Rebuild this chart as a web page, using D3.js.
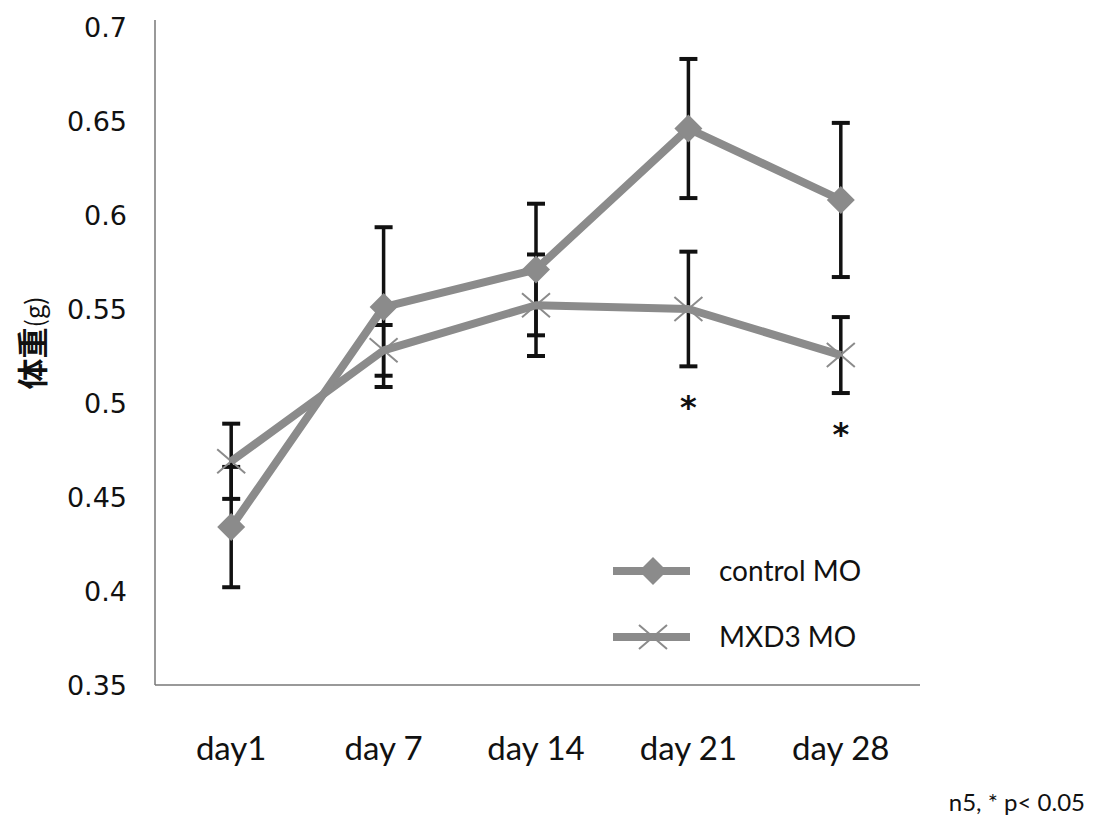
<!DOCTYPE html>
<html>
<head>
<meta charset="utf-8">
<script src="https://cdn.jsdelivr.net/npm/d3@7"></script>
<style>
  body { margin: 0; background: #fff; }
</style>
</head>
<body>
<div id="chart-area"></div>
<script>
//values
const days = ['day1', 'day 7', 'day 14', 'day 21', 'day 28'];
const controlMean = [0.434, 0.551, 0.571, 0.646, 0.608];
const controlErr = [0.032, 0.0425, 0.035, 0.037, 0.041];
const mxd3Mean = [0.469, 0.528, 0.552, 0.55, 0.5255];
const mxd3Err = [0.02, 0.0135, 0.027, 0.0305, 0.0202];
const significant = [false, false, false, true, true];
const yTicks = [0.35, 0.4, 0.45, 0.5, 0.55, 0.6, 0.65, 0.7];
const seriesNames = ['control MO', 'MXD3 MO'];

let width = 1094;
let height = 825;
let plot = { left: 155, right: 917, top: 27, bottom: 685 };
let lineColor = '#8b8b8b';

let chart = d3
  .select('#chart-area')
  .append('svg')
  .attr('width', width)
  .attr('height', height);

let x = d3.scaleBand().domain(days).range([plot.left, plot.right]);
let y = d3.scaleLinear().domain([0.35, 0.7]).range([plot.bottom, plot.top]);
let cx = (d) => x(d) + x.bandwidth() / 2;

let series = [
  { name: seriesNames[0], mean: controlMean, err: controlErr, marker: 'diamond' },
  { name: seriesNames[1], mean: mxd3Mean, err: mxd3Err, marker: 'cross' },
];

//axes lines
chart
  .append('line')
  .attr('x1', plot.left)
  .attr('x2', plot.left)
  .attr('y1', plot.top - 7)
  .attr('y2', plot.bottom)
  .attr('stroke', '#777')
  .attr('stroke-width', 1.5);
chart
  .append('line')
  .attr('x1', plot.left)
  .attr('x2', plot.right + 3)
  .attr('y1', plot.bottom)
  .attr('y2', plot.bottom)
  .attr('stroke', '#777')
  .attr('stroke-width', 1.5);

//y tick labels
chart
  .append('g')
  .selectAll('text')
  .data(yTicks)
  .enter()
  .append('text')
  .attr('x', 127)
  .attr('y', (d) => y(d))
  .attr('dy', '0.36em')
  .attr('text-anchor', 'end')
  .style('font-family', 'DejaVu Sans')
  .style('font-size', '27px')
  .style('fill', '#111')
  .text((d) => d);

//x labels
chart
  .append('g')
  .selectAll('text')
  .data(days)
  .enter()
  .append('text')
  .attr('x', (d) => cx(d))
  .attr('y', 760)
  .attr('text-anchor', 'middle')
  .style('font-family', 'Lato')
  .style('font-size', '33px')
  .style('fill', '#111')
  .text((d) => d);

//y title
let yTitle = chart
  .append('text')
  .attr('transform', 'translate(44, 343) rotate(-90)')
  .attr('text-anchor', 'middle')
  .style('font-family', 'Noto Sans CJK JP')
  .style('fill', '#111');
yTitle.append('tspan').style('font-size', '31px').style('font-weight', 'bold').text('体重');
yTitle.append('tspan').style('font-size', '25px').text('(g)');

//error bars
let errG = chart.append('g');
series.forEach((s) => {
  days.forEach((d, i) => {
    let top = y(s.mean[i] + s.err[i]);
    let bot = y(s.mean[i] - s.err[i]);
    errG
      .append('line')
      .attr('x1', cx(d))
      .attr('x2', cx(d))
      .attr('y1', top)
      .attr('y2', bot)
      .attr('stroke', '#111')
      .attr('stroke-width', 3.5);
    [top, bot].forEach((v) => {
      errG
        .append('line')
        .attr('x1', cx(d) - 9)
        .attr('x2', cx(d) + 9)
        .attr('y1', v)
        .attr('y2', v)
        .attr('stroke', '#111')
        .attr('stroke-width', 4);
    });
  });
});

//marker shapes
function drawMarker(g, marker, px, py) {
  if (marker == 'diamond') {
    g.append('path')
      .attr('d', `M${px},${py - 14}L${px + 14},${py}L${px},${py + 14}L${px - 14},${py}Z`)
      .attr('fill', lineColor);
  } else {
    g.append('path')
      .attr('d', `M${px - 14},${py - 12}L${px + 14},${py + 12}M${px - 14},${py + 12}L${px + 14},${py - 12}`)
      .attr('stroke', lineColor)
      .attr('stroke-width', 2)
      .attr('fill', 'none');
  }
}

//lines and markers
let line = d3
  .line()
  .x((d) => cx(d[0]))
  .y((d) => y(d[1]));
series
  .slice()
  .reverse()
  .forEach((s) => {
    let g = chart.append('g');
    g.append('path')
      .attr('d', line(days.map((d, i) => [d, s.mean[i]])))
      .attr('fill', 'none')
      .attr('stroke', lineColor)
      .attr('stroke-width', 8)
      .attr('stroke-linejoin', 'round');
    days.forEach((d, i) => drawMarker(g, s.marker, cx(d), y(s.mean[i])));
  });

//significance stars under MXD3 bars
chart
  .append('g')
  .selectAll('text')
  .data(days.filter((d, i) => significant[i]))
  .enter()
  .append('text')
  .attr('x', (d) => cx(d))
  .attr('y', (d) => {
    let i = days.indexOf(d);
    return y(mxd3Mean[i] - mxd3Err[i]) + 52;
  })
  .attr('text-anchor', 'middle')
  .style('font-family', 'DejaVu Sans')
  .style('font-weight', 'bold')
  .style('font-size', '32px')
  .style('fill', '#111')
  .text('*');

//legend
let legend = chart.append('g');
series.forEach((s, i) => {
  let ly = 571 + i * 66;
  legend
    .append('line')
    .attr('x1', 613)
    .attr('x2', 690)
    .attr('y1', ly)
    .attr('y2', ly)
    .attr('stroke', lineColor)
    .attr('stroke-width', 8);
  drawMarker(legend, s.marker, 653, ly);
  legend
    .append('text')
    .attr('x', 719)
    .attr('y', ly)
    .attr('dy', '0.35em')
    .style('font-family', 'Lato')
    .style('font-size', '28px')
    .style('fill', '#111')
    .text(s.name);
});

//footnote
chart
  .append('text')
  .attr('x', 1085)
  .attr('y', 811)
  .attr('text-anchor', 'end')
  .style('font-family', 'Lato')
  .style('font-size', '24px')
  .style('fill', '#111')
  .text('n5, * p< 0.05');
</script>
</body>
</html>
